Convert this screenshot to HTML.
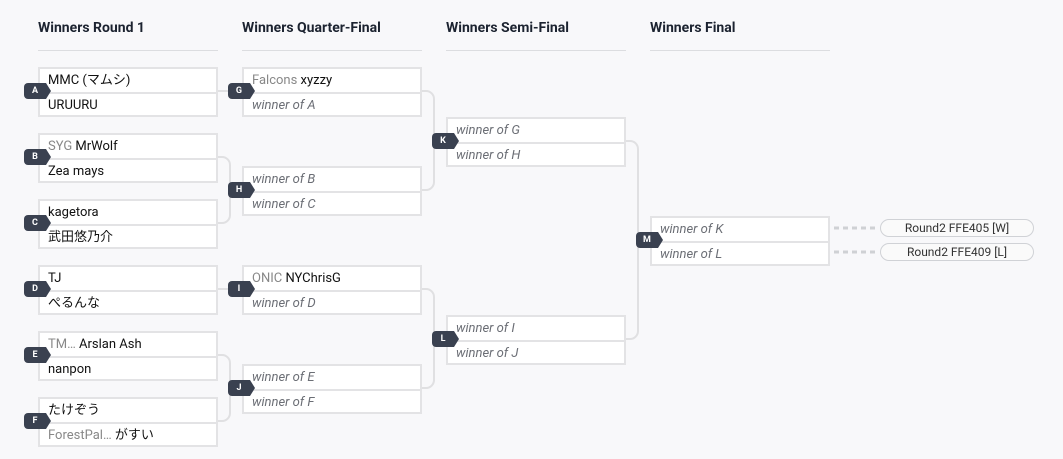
<!DOCTYPE html>
<html><head><meta charset="utf-8"><style>
body{margin:0;width:1063px;height:459px;background:#f8f8fa;font-family:"Roboto","Liberation Sans","Noto Sans CJK JP",sans-serif;position:relative;overflow:hidden}
.h{position:absolute;top:20px;font-weight:bold;font-size:14px;color:#1c2330}
.hl{position:absolute;top:50px;width:180px;height:1px;background:#dcdde0}
.m{position:absolute;width:176px;height:46px;border:2px solid #e3e3e5;background:#fff;box-sizing:content-box}
.r{height:23px;line-height:23px;font-size:13px;padding-left:8px;color:#111;white-space:nowrap}
.r+.r{border-top:2px solid #e3e3e5;height:22px}
.i{font-style:italic;color:#6b6e75}
.g{color:#888}
.b{position:absolute;width:22px;height:16px;background:#3a4150;color:#fff;font-size:9px;font-weight:bold;line-height:16px;text-align:center;border-radius:4px 0 0 4px}
.b:after{content:"";position:absolute;left:22px;top:0;border-left:5px solid #3a4150;border-top:8px solid transparent;border-bottom:8px solid transparent}
.p{position:absolute;left:880px;width:152px;height:16px;border:1px solid #d0d2d6;border-radius:9px;font-size:12px;line-height:16px;text-align:center;color:#333;background:#fafafa}
</style></head><body>
<div class="h" style="left:38px">Winners Round 1</div>
<div class="h" style="left:242px">Winners Quarter-Final</div>
<div class="h" style="left:446px">Winners Semi-Final</div>
<div class="h" style="left:650px">Winners Final</div>
<div class="hl" style="left:38px"></div><div class="hl" style="left:242px"></div><div class="hl" style="left:446px"></div><div class="hl" style="left:650px"></div>
<svg width="1063" height="459" style="position:absolute;left:0;top:0" fill="none" stroke="#e0e0e2" stroke-width="2">
<path d="M216 91H242"/>
<path d="M216 157H222a8 8 0 0 1 8 8V215a8 8 0 0 1-8 8H216"/>
<path d="M216 355H222a8 8 0 0 1 8 8V413a8 8 0 0 1-8 8H216"/>
<path d="M216 289H242"/>
<path d="M420 91H426a8 8 0 0 1 8 8V182a8 8 0 0 1-8 8H420"/>
<path d="M420 289H426a8 8 0 0 1 8 8V380a8 8 0 0 1-8 8H420"/>
<path d="M624 141H630a8 8 0 0 1 8 8V331a8 8 0 0 1-8 8H624"/>
<path d="M834 228H878M834 252H878" stroke="#cfd1d4" stroke-width="3" stroke-dasharray="5 4"/>
</svg>
<div class="m" style="left:38px;top:67px"><div class="r">MMC (マムシ)</div><div class="r">URUURU</div></div>
<div class="m" style="left:38px;top:133px"><div class="r"><span class="g">SYG</span> MrWolf</div><div class="r">Zea mays</div></div>
<div class="m" style="left:38px;top:199px"><div class="r">kagetora</div><div class="r">武田悠乃介</div></div>
<div class="m" style="left:38px;top:265px"><div class="r">TJ</div><div class="r">ぺるんな</div></div>
<div class="m" style="left:38px;top:331px"><div class="r"><span class="g">TM…</span> Arslan Ash</div><div class="r">nanpon</div></div>
<div class="m" style="left:38px;top:397px"><div class="r">たけぞう</div><div class="r"><span class="g">ForestPal…</span> がすい</div></div>
<div class="m" style="left:242px;top:67px"><div class="r"><span class="g">Falcons</span> xyzzy</div><div class="r i">winner of A</div></div>
<div class="m" style="left:242px;top:166px"><div class="r i">winner of B</div><div class="r i">winner of C</div></div>
<div class="m" style="left:242px;top:265px"><div class="r"><span class="g">ONIC</span> NYChrisG</div><div class="r i">winner of D</div></div>
<div class="m" style="left:242px;top:364px"><div class="r i">winner of E</div><div class="r i">winner of F</div></div>
<div class="m" style="left:446px;top:117px"><div class="r i">winner of G</div><div class="r i">winner of H</div></div>
<div class="m" style="left:446px;top:315px"><div class="r i">winner of I</div><div class="r i">winner of J</div></div>
<div class="m" style="left:650px;top:216px"><div class="r i">winner of K</div><div class="r i">winner of L</div></div>
<div class="b" style="left:24px;top:83px">A</div>
<div class="b" style="left:24px;top:149px">B</div>
<div class="b" style="left:24px;top:215px">C</div>
<div class="b" style="left:24px;top:281px">D</div>
<div class="b" style="left:24px;top:347px">E</div>
<div class="b" style="left:24px;top:413px">F</div>
<div class="b" style="left:228px;top:83px">G</div>
<div class="b" style="left:228px;top:182px">H</div>
<div class="b" style="left:228px;top:281px">I</div>
<div class="b" style="left:228px;top:380px">J</div>
<div class="b" style="left:432px;top:133px">K</div>
<div class="b" style="left:432px;top:331px">L</div>
<div class="b" style="left:636px;top:232px">M</div>
<div class="p" style="top:219px">Round2 FFE405 [W]</div>
<div class="p" style="top:243px">Round2 FFE409 [L]</div>
</body></html>
